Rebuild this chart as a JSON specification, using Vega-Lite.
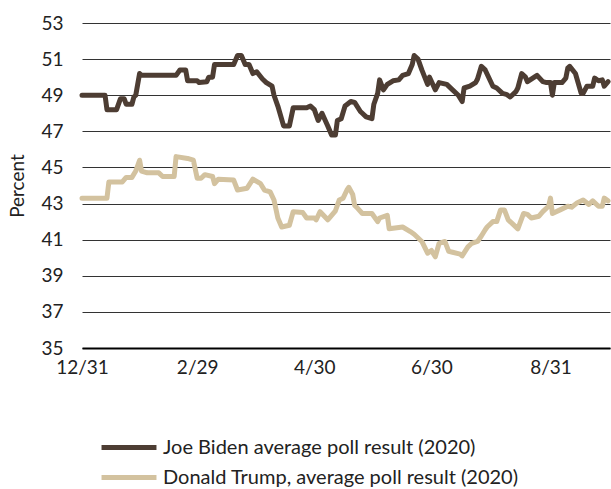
{
  "$schema": "https://vega.github.io/schema/vega-lite/v6.json",
  "width": 528,
  "height": 325,
  "autosize": "none",
  "padding": {"left": 82, "top": 23, "right": 1, "bottom": 141},
  "config": {
    "font": "Lato",
    "view": {"stroke": null}
  },
  "datasets": {
    "biden": [
      {"date": "2019-12-31", "percent": 49.0}, {"date": "2020-01-12", "percent": 49.0},
      {"date": "2020-01-13", "percent": 48.2}, {"date": "2020-01-18", "percent": 48.2},
      {"date": "2020-01-20", "percent": 48.8}, {"date": "2020-01-22", "percent": 48.8},
      {"date": "2020-01-23", "percent": 48.5}, {"date": "2020-01-26", "percent": 48.5},
      {"date": "2020-01-27", "percent": 48.9}, {"date": "2020-01-28", "percent": 49.0},
      {"date": "2020-01-30", "percent": 50.2}, {"date": "2020-01-31", "percent": 50.1},
      {"date": "2020-02-18", "percent": 50.1}, {"date": "2020-02-20", "percent": 50.4},
      {"date": "2020-02-23", "percent": 50.4}, {"date": "2020-02-24", "percent": 49.8},
      {"date": "2020-02-29", "percent": 49.8}, {"date": "2020-03-01", "percent": 49.7},
      {"date": "2020-03-05", "percent": 49.75}, {"date": "2020-03-06", "percent": 50.0},
      {"date": "2020-03-08", "percent": 50.0}, {"date": "2020-03-09", "percent": 50.7},
      {"date": "2020-03-19", "percent": 50.7}, {"date": "2020-03-21", "percent": 51.2},
      {"date": "2020-03-23", "percent": 51.2}, {"date": "2020-03-25", "percent": 50.7},
      {"date": "2020-03-27", "percent": 50.7}, {"date": "2020-03-29", "percent": 50.2},
      {"date": "2020-03-31", "percent": 50.3}, {"date": "2020-04-03", "percent": 49.9},
      {"date": "2020-04-05", "percent": 49.7}, {"date": "2020-04-08", "percent": 49.5},
      {"date": "2020-04-09", "percent": 49.0}, {"date": "2020-04-11", "percent": 48.4},
      {"date": "2020-04-14", "percent": 47.3}, {"date": "2020-04-17", "percent": 47.3},
      {"date": "2020-04-19", "percent": 48.3}, {"date": "2020-04-26", "percent": 48.3},
      {"date": "2020-04-28", "percent": 48.4}, {"date": "2020-04-30", "percent": 48.2},
      {"date": "2020-05-02", "percent": 47.6}, {"date": "2020-05-04", "percent": 48.0},
      {"date": "2020-05-07", "percent": 47.3}, {"date": "2020-05-09", "percent": 46.8},
      {"date": "2020-05-11", "percent": 46.8}, {"date": "2020-05-12", "percent": 47.6},
      {"date": "2020-05-14", "percent": 47.7}, {"date": "2020-05-16", "percent": 48.4},
      {"date": "2020-05-19", "percent": 48.65}, {"date": "2020-05-21", "percent": 48.6},
      {"date": "2020-05-24", "percent": 48.1}, {"date": "2020-05-25", "percent": 48.0},
      {"date": "2020-05-27", "percent": 47.8}, {"date": "2020-05-30", "percent": 47.7},
      {"date": "2020-05-31", "percent": 48.5}, {"date": "2020-06-02", "percent": 49.1},
      {"date": "2020-06-03", "percent": 49.85}, {"date": "2020-06-05", "percent": 49.3},
      {"date": "2020-06-07", "percent": 49.6}, {"date": "2020-06-10", "percent": 49.8},
      {"date": "2020-06-13", "percent": 49.85}, {"date": "2020-06-15", "percent": 50.1},
      {"date": "2020-06-18", "percent": 50.2}, {"date": "2020-06-20", "percent": 50.7},
      {"date": "2020-06-21", "percent": 51.2}, {"date": "2020-06-23", "percent": 51.0},
      {"date": "2020-06-25", "percent": 50.4}, {"date": "2020-06-28", "percent": 49.6},
      {"date": "2020-06-29", "percent": 50.0}, {"date": "2020-07-02", "percent": 49.3},
      {"date": "2020-07-04", "percent": 49.7}, {"date": "2020-07-08", "percent": 49.6},
      {"date": "2020-07-11", "percent": 49.3}, {"date": "2020-07-14", "percent": 49.0},
      {"date": "2020-07-16", "percent": 48.65}, {"date": "2020-07-17", "percent": 49.4},
      {"date": "2020-07-20", "percent": 49.5}, {"date": "2020-07-23", "percent": 49.7},
      {"date": "2020-07-24", "percent": 49.9}, {"date": "2020-07-26", "percent": 50.6},
      {"date": "2020-07-28", "percent": 50.4}, {"date": "2020-08-01", "percent": 49.5},
      {"date": "2020-08-03", "percent": 49.4}, {"date": "2020-08-06", "percent": 49.1},
      {"date": "2020-08-08", "percent": 49.05}, {"date": "2020-08-10", "percent": 48.9},
      {"date": "2020-08-13", "percent": 49.2}, {"date": "2020-08-14", "percent": 49.4},
      {"date": "2020-08-16", "percent": 50.2}, {"date": "2020-08-18", "percent": 50.0},
      {"date": "2020-08-19", "percent": 49.75}, {"date": "2020-08-24", "percent": 50.1},
      {"date": "2020-08-27", "percent": 49.75}, {"date": "2020-08-29", "percent": 49.7},
      {"date": "2020-08-31", "percent": 49.7}, {"date": "2020-09-01", "percent": 49.0},
      {"date": "2020-09-02", "percent": 49.7}, {"date": "2020-09-06", "percent": 49.7},
      {"date": "2020-09-08", "percent": 49.95}, {"date": "2020-09-09", "percent": 50.5},
      {"date": "2020-09-10", "percent": 50.6}, {"date": "2020-09-13", "percent": 50.2},
      {"date": "2020-09-16", "percent": 49.1}, {"date": "2020-09-17", "percent": 49.1},
      {"date": "2020-09-19", "percent": 49.5}, {"date": "2020-09-22", "percent": 49.5},
      {"date": "2020-09-23", "percent": 49.95}, {"date": "2020-09-25", "percent": 49.8},
      {"date": "2020-09-27", "percent": 49.85}, {"date": "2020-09-28", "percent": 49.5},
      {"date": "2020-09-30", "percent": 49.75}
    ],
    "trump": [
      {"date": "2019-12-31", "percent": 43.3}, {"date": "2020-01-13", "percent": 43.3},
      {"date": "2020-01-14", "percent": 44.2}, {"date": "2020-01-21", "percent": 44.2},
      {"date": "2020-01-23", "percent": 44.45}, {"date": "2020-01-26", "percent": 44.45},
      {"date": "2020-01-28", "percent": 44.8}, {"date": "2020-01-30", "percent": 45.4},
      {"date": "2020-01-31", "percent": 44.8}, {"date": "2020-02-03", "percent": 44.7},
      {"date": "2020-02-09", "percent": 44.7}, {"date": "2020-02-11", "percent": 44.5},
      {"date": "2020-02-17", "percent": 44.5}, {"date": "2020-02-18", "percent": 45.6},
      {"date": "2020-02-24", "percent": 45.5}, {"date": "2020-02-27", "percent": 45.4},
      {"date": "2020-02-29", "percent": 44.4}, {"date": "2020-03-02", "percent": 44.4},
      {"date": "2020-03-04", "percent": 44.6}, {"date": "2020-03-08", "percent": 44.5},
      {"date": "2020-03-09", "percent": 44.1}, {"date": "2020-03-11", "percent": 44.35},
      {"date": "2020-03-19", "percent": 44.3}, {"date": "2020-03-21", "percent": 43.75},
      {"date": "2020-03-26", "percent": 43.85}, {"date": "2020-03-29", "percent": 44.35},
      {"date": "2020-04-02", "percent": 44.1}, {"date": "2020-04-04", "percent": 43.75},
      {"date": "2020-04-07", "percent": 43.65}, {"date": "2020-04-09", "percent": 43.2},
      {"date": "2020-04-11", "percent": 42.2}, {"date": "2020-04-13", "percent": 41.7},
      {"date": "2020-04-17", "percent": 41.8}, {"date": "2020-04-19", "percent": 42.55},
      {"date": "2020-04-24", "percent": 42.5}, {"date": "2020-04-26", "percent": 42.2},
      {"date": "2020-04-30", "percent": 42.2}, {"date": "2020-05-01", "percent": 42.1},
      {"date": "2020-05-03", "percent": 42.55}, {"date": "2020-05-07", "percent": 42.1},
      {"date": "2020-05-09", "percent": 42.35}, {"date": "2020-05-11", "percent": 42.6},
      {"date": "2020-05-13", "percent": 43.2}, {"date": "2020-05-15", "percent": 43.3},
      {"date": "2020-05-17", "percent": 43.75}, {"date": "2020-05-18", "percent": 43.9},
      {"date": "2020-05-20", "percent": 43.5}, {"date": "2020-05-21", "percent": 42.9},
      {"date": "2020-05-22", "percent": 42.8}, {"date": "2020-05-25", "percent": 42.45},
      {"date": "2020-05-30", "percent": 42.45}, {"date": "2020-06-02", "percent": 42.0},
      {"date": "2020-06-03", "percent": 42.2}, {"date": "2020-06-07", "percent": 42.35},
      {"date": "2020-06-08", "percent": 41.6}, {"date": "2020-06-15", "percent": 41.7},
      {"date": "2020-06-19", "percent": 41.45}, {"date": "2020-06-21", "percent": 41.3},
      {"date": "2020-06-25", "percent": 40.9}, {"date": "2020-06-28", "percent": 40.25},
      {"date": "2020-06-30", "percent": 40.4}, {"date": "2020-07-02", "percent": 40.05},
      {"date": "2020-07-04", "percent": 40.8}, {"date": "2020-07-07", "percent": 40.9},
      {"date": "2020-07-09", "percent": 40.35}, {"date": "2020-07-11", "percent": 40.3},
      {"date": "2020-07-15", "percent": 40.2}, {"date": "2020-07-16", "percent": 40.1},
      {"date": "2020-07-19", "percent": 40.6}, {"date": "2020-07-21", "percent": 40.8},
      {"date": "2020-07-24", "percent": 40.9}, {"date": "2020-07-26", "percent": 41.2},
      {"date": "2020-07-28", "percent": 41.55}, {"date": "2020-07-29", "percent": 41.7},
      {"date": "2020-08-01", "percent": 42.0}, {"date": "2020-08-03", "percent": 42.0},
      {"date": "2020-08-05", "percent": 42.65}, {"date": "2020-08-07", "percent": 42.65},
      {"date": "2020-08-09", "percent": 42.1}, {"date": "2020-08-11", "percent": 41.9},
      {"date": "2020-08-14", "percent": 41.6}, {"date": "2020-08-17", "percent": 42.45},
      {"date": "2020-08-19", "percent": 42.4}, {"date": "2020-08-21", "percent": 42.2},
      {"date": "2020-08-25", "percent": 42.3}, {"date": "2020-08-27", "percent": 42.55},
      {"date": "2020-08-30", "percent": 42.85}, {"date": "2020-08-31", "percent": 43.3},
      {"date": "2020-09-01", "percent": 42.45}, {"date": "2020-09-05", "percent": 42.65},
      {"date": "2020-09-09", "percent": 42.85}, {"date": "2020-09-11", "percent": 42.8},
      {"date": "2020-09-14", "percent": 43.05}, {"date": "2020-09-17", "percent": 43.2},
      {"date": "2020-09-20", "percent": 42.95}, {"date": "2020-09-22", "percent": 43.15},
      {"date": "2020-09-25", "percent": 42.85}, {"date": "2020-09-27", "percent": 42.85},
      {"date": "2020-09-28", "percent": 43.3}, {"date": "2020-09-30", "percent": 43.15}
    ]
  },
  "encoding": {
    "x": {
      "field": "date",
      "type": "temporal",
      "scale": {
        "type": "utc",
        "domain": [
          {"year": 2019, "month": 12, "date": 31, "utc": true},
          {"year": 2020, "month": 10, "date": 1, "utc": true}
        ]
      },
      "axis": {
        "title": null,
        "values": [
          {"year": 2019, "month": 12, "date": 31, "utc": true},
          {"year": 2020, "month": 2, "date": 29, "utc": true},
          {"year": 2020, "month": 4, "date": 30, "utc": true},
          {"year": 2020, "month": 6, "date": 30, "utc": true},
          {"year": 2020, "month": 8, "date": 31, "utc": true}
        ],
        "format": "%-m/%-d",
        "grid": false,
        "ticks": false,
        "domainColor": "#000000",
        "domainWidth": 2,
        "labelFontSize": 19,
        "labelColor": "#222222",
        "labelPadding": 10,
        "labelFlush": false,
        "labelOverlap": false
      }
    },
    "y": {
      "field": "percent",
      "type": "quantitative",
      "scale": {"domain": [35, 53], "nice": false, "zero": false},
      "axis": {
        "title": "Percent",
        "values": [35, 37, 39, 41, 43, 45, 47, 49, 51, 53],
        "domain": false,
        "ticks": false,
        "tickSize": 0,
        "gridColor": "#333333",
        "gridWidth": 1,
        "labelFontSize": 19,
        "labelColor": "#222222",
        "labelPadding": 19,
        "labelOverlap": false,
        "labelBound": false,
        "labelFlush": false,
        "titleFontSize": 19,
        "titleFontWeight": "normal",
        "titleColor": "#222222",
        "titlePadding": 13
      }
    },
    "color": {
      "field": "series",
      "type": "nominal",
      "scale": {
        "domain": ["Joe Biden average poll result (2020)", "Donald Trump, average poll result (2020)"],
        "range": ["#4d3d33", "#d3c29f"]
      },
      "legend": {
        "title": null,
        "orient": "none",
        "legendX": 27,
        "legendY": 404.5,
        "padding": 0,
        "rowPadding": 0,
        "symbolType": "M-1.57,0H1.57",
        "symbolSize": 1225,
        "symbolStrokeWidth": 5,
        "labelOffset": 14,
        "labelFontSize": 20,
        "labelColor": "#222222",
        "labelLimit": 500
      }
    }
  },
  "layer": [
    {
      "data": {"name": "trump"},
      "transform": [{"calculate": "'Donald Trump, average poll result (2020)'", "as": "series"}],
      "mark": {"type": "line", "strokeWidth": 5, "strokeJoin": "round", "strokeCap": "round"}
    },
    {
      "data": {"name": "biden"},
      "transform": [{"calculate": "'Joe Biden average poll result (2020)'", "as": "series"}],
      "mark": {"type": "line", "strokeWidth": 5, "strokeJoin": "round", "strokeCap": "round"}
    }
  ]
}
